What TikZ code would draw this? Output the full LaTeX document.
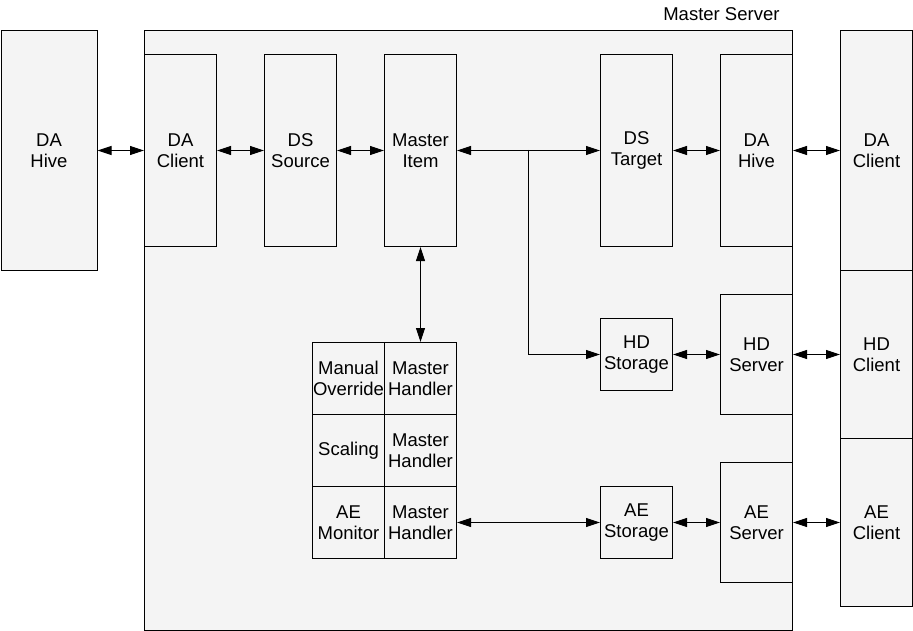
\documentclass[tikz,border=0pt]{standalone}
\usepackage{fontspec}
\setmainfont{Liberation Sans}
\usetikzlibrary{arrows.meta}
\definecolor{boxgray}{HTML}{F4F4F4}
\begin{document}
\begin{tikzpicture}[x=1pt,y=-1pt,
  lbl/.style={font=\fontsize{18.5}{21}\selectfont, text=black},
  box/.style={lbl, draw=black, fill=boxgray, line width=1pt, inner sep=0pt, align=center, anchor=north west},
  tip/.tip={Triangle[length=14pt,width=9pt]},
  link/.style={line width=1pt, tip-tip},
  onelink/.style={line width=1pt, -tip},
]
\useasboundingbox (0,0) rectangle (913,631);
\fill[white] (0,0) rectangle (913,631);
% outer master server
\node[box, minimum width=648pt, minimum height=600pt] (ms) at (144,30) {};
\node[lbl, anchor=base east] (mslabel) at (783,21) {Master Server};
% left
\node[box, minimum width=96pt, minimum height=240pt] (dahiveL) at (0.5,30) {DA\\Hive};
% top row
\node[box, minimum width=72pt, minimum height=192pt] (daclient) at (144,54) {DA\\Client};
\node[box, minimum width=72pt, minimum height=192pt] (dssource) at (264,54) {DS\\Source};
\node[box, minimum width=72pt, minimum height=192pt] (mitem) at (384,54) {Master\\Item};
\node[box, minimum width=72pt, minimum height=192pt] (dstarget) at (600,54) {DS\\Target};
\node[box, minimum width=72pt, minimum height=192pt] (dahiveR) at (720,54) {DA\\Hive};
% right column
\node[box, minimum width=72pt, minimum height=240pt] (daclientR) at (840,30) {DA\\Client};
\node[box, minimum width=72pt, minimum height=168pt] (hdclient) at (840,270) {HD\\Client};
\node[box, minimum width=72pt, minimum height=168pt] (aeclient) at (840,438) {AE\\Client};
% HD / AE
\node[box, minimum width=72pt, minimum height=72pt] (hdstorage) at (600,318) {HD\\Storage};
\node[box, minimum width=72pt, minimum height=120pt] (hdserver) at (720,294) {HD\\Server};
\node[box, minimum width=72pt, minimum height=72pt] (aestorage) at (600,486) {AE\\Storage};
\node[box, minimum width=72pt, minimum height=120pt] (aeserver) at (720,462) {AE\\Server};
% handler grid
\node[box, minimum width=72pt, minimum height=72pt] (mo) at (312,342) {Manual\\Override};
\node[box, minimum width=72pt, minimum height=72pt] (mh1) at (384,342) {Master\\Handler};
\node[box, minimum width=72pt, minimum height=72pt] (sc) at (312,414) {Scaling};
\node[box, minimum width=72pt, minimum height=72pt] (mh2) at (384,414) {Master\\Handler};
\node[box, minimum width=72pt, minimum height=72pt] (aem) at (312,486) {AE\\Monitor};
\node[box, minimum width=72pt, minimum height=72pt] (mh3) at (384,486) {Master\\Handler};
% connectors
\draw[link] (dahiveL.east) -- (daclient.west);
\draw[link] (daclient.east) -- (dssource.west);
\draw[link] (dssource.east) -- (mitem.west);
\draw[link] (mitem.east) -- (dstarget.west);
\draw[link] (dstarget.east) -- (dahiveR.west);
\draw[link] (dahiveR.east) -- (daclientR.west);
\coordinate (br) at (528,150);
\draw[onelink] (br) |- (hdstorage.west);
\draw[link] (mitem.south) -- (mh1.north);
\draw[link] (hdstorage.east) -- (hdserver.west);
\draw[link] (hdserver.east) -- (hdclient.west);
\draw[link] (mh3.east) -- (aestorage.west);
\draw[link] (aestorage.east) -- (aeserver.west);
\draw[link] (aeserver.east) -- (aeclient.west);
\end{tikzpicture}
\end{document}
